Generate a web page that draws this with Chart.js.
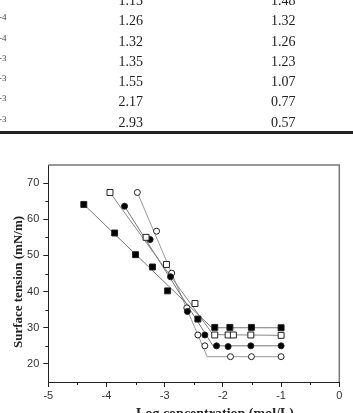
<!DOCTYPE html>
<html>
<head>
<meta charset="utf-8">
<script src="https://cdn.jsdelivr.net/npm/chart.js@4"></script>
<style>
  html, body { margin: 0; padding: 0; background: #fff; overflow: hidden; }
  #wrap { position: relative; width: 353px; height: 413px; overflow: hidden; }
  #chart { position: absolute; left: 0; top: 0; }
  .cell { position: absolute; font-family: "Liberation Serif", "DejaVu Serif", serif; font-size: 14px; color: #222; transform: translate(-50%, -50%); white-space: nowrap; }
  .sup { position: absolute; font-family: "Liberation Serif", serif; font-size: 9px; color: #444; left: -1px; }
  #rule { position: absolute; left: 0; top: 131px; width: 353px; height: 3px; background: #222; }
</style>
</head>
<body>
<div id="wrap">
  <canvas id="chart" width="353" height="430"></canvas>
  <div id="table"></div>
  <div id="rule"></div>
</div>
<script>
// table fragment above the figure
const tableCol1 = ['1.13', '1.26', '1.32', '1.35', '1.55', '2.17', '2.93'];
const tableCol2 = ['1.48', '1.32', '1.26', '1.23', '1.07', '0.77', '0.57'];
const tableExp = ['', '-4', '-4', '-3', '-3', '-3', '-3'];

// surface tension vs log concentration
const filledSquareX = [-4.39, -3.86, -3.50, -3.21, -2.95, -2.43, -2.14, -1.88, -1.51, -1.00];
const filledSquareY = [64.1, 56.2, 50.2, 46.8, 40.2, 32.4, 30.1, 30.1, 30.1, 30.0];
const openSquareX = [-3.94, -3.32, -2.97, -2.48, -2.14, -1.91, -1.82, -1.52, -1.00];
const openSquareY = [67.4, 55.0, 47.5, 36.7, 28.0, 28.0, 28.0, 28.0, 27.9];
const filledCircleX = [-3.69, -3.25, -2.90, -2.61, -2.31, -2.11, -1.91, -1.52, -1.00];
const filledCircleY = [63.6, 54.4, 44.1, 34.5, 28.0, 25.0, 24.8, 25.0, 25.0];
const openCircleX = [-3.47, -3.14, -2.88, -2.62, -2.43, -2.31, -1.87, -1.51, -1.00];
const openCircleY = [67.4, 56.7, 45.1, 35.5, 28.0, 25.0, 22.0, 22.0, 22.0];

// fitted lines (start, break point, end)
const fitFilledSquareX = [-4.39, -2.19, -1.00];
const fitFilledSquareY = [64.1, 30.0, 30.0];
const fitOpenSquareX = [-3.94, -2.17, -1.00];
const fitOpenSquareY = [67.4, 28.1, 27.9];
const fitFilledCircleX = [-3.69, -2.17, -1.00];
const fitFilledCircleY = [63.6, 25.0, 25.0];
const fitOpenCircleX = [-3.47, -2.27, -1.00];
const fitOpenCircleY = [67.4, 22.0, 22.0];

const xTicks = [-5, -4, -3, -2, -1, 0];
const yTicks = [20, 30, 40, 50, 60, 70];
const xMinor = [-4.5, -3.5, -2.5, -1.5, -0.5];
const yMinor = [25, 35, 45, 55, 65];

const table = document.getElementById('table');
const rowY = [1, 21, 41.5, 61.5, 82, 102.3, 122.7];
tableCol1.forEach((v, i) => {
  table.insertAdjacentHTML('beforeend',
    `<div class="cell" style="left:130.7px;top:${rowY[i]}px">${v}</div>
     <div class="cell" style="left:283.3px;top:${rowY[i]}px">${tableCol2[i]}</div>`);
  if (tableExp[i]) {
    table.insertAdjacentHTML('beforeend',
      `<div class="sup" style="top:${rowY[i] - 9}px">${tableExp[i]}</div>`);
  }
});

const pts = (xs, ys) => xs.map((x, i) => ({ x: x, y: ys[i] }));

const fitLine = (xs, ys, color) => ({
  data: pts(xs, ys),
  showLine: true,
  borderColor: color,
  borderWidth: 1,
  pointRadius: 0,
  order: 2
});

const markers = (xs, ys, style, fill, r) => ({
  data: pts(xs, ys),
  showLine: false,
  pointStyle: style,
  pointRadius: r,
  pointBackgroundColor: fill,
  pointBorderColor: '#222',
  pointBorderWidth: 1,
  order: 1
});

const frameAndLabels = {
  id: 'frameAndLabels',
  afterDraw(chart) {
    const { ctx, chartArea: a, scales } = chart;
    ctx.save();
    // top + right frame
    ctx.strokeStyle = '#777';
    ctx.lineWidth = 1.5;
    ctx.beginPath();
    ctx.moveTo(a.left, a.top);
    ctx.lineTo(a.right, a.top);
    ctx.lineTo(a.right, a.bottom);
    ctx.stroke();
    // minor ticks
    ctx.strokeStyle = '#222';
    ctx.lineWidth = 1;
    ctx.beginPath();
    xMinor.forEach(v => {
      const px = Math.round(scales.x.getPixelForValue(v)) + 0.5;
      ctx.moveTo(px, a.bottom);
      ctx.lineTo(px, a.bottom + 3);
    });
    yMinor.forEach(v => {
      const py = Math.round(scales.y.getPixelForValue(v)) + 0.5;
      ctx.moveTo(a.left, py);
      ctx.lineTo(a.left - 3, py);
    });
    ctx.stroke();
    // axis titles
    ctx.fillStyle = '#222';
    ctx.font = 'bold 14px "Liberation Serif", serif';
    ctx.textAlign = 'center';
    ctx.textBaseline = 'middle';
    ctx.fillText('Log concentration (mol/L)', 215, 414);
    ctx.translate(19, 282);
    ctx.rotate(-Math.PI / 2);
    ctx.font = 'bold 13px "Liberation Serif", serif';
    ctx.fillText('Surface tension (mN/m)', 0, 0);
    ctx.restore();
  }
};

new Chart(document.getElementById('chart'), {
  type: 'scatter',
  data: {
    datasets: [
      fitLine(fitFilledSquareX, fitFilledSquareY, '#777'),
      fitLine(fitOpenSquareX, fitOpenSquareY, '#888'),
      fitLine(fitFilledCircleX, fitFilledCircleY, '#777'),
      fitLine(fitOpenCircleX, fitOpenCircleY, '#999'),
      markers(filledSquareX, filledSquareY, 'rect', '#000', 4.2),
      markers(openSquareX, openSquareY, 'rect', '#fff', 4.2),
      markers(filledCircleX, filledCircleY, 'circle', '#000', 3),
      markers(openCircleX, openCircleY, 'circle', '#fff', 3)
    ]
  },
  options: {
    responsive: false,
    animation: false,
    layout: { padding: { top: 165, right: 13.7, left: 0, bottom: 0 } },
    plugins: { legend: { display: false }, tooltip: { enabled: false } },
    scales: {
      x: {
        type: 'linear',
        min: -5,
        max: 0,
        afterBuildTicks: s => { s.ticks = xTicks.map(v => ({ value: v })); },
        afterFit: s => { s.height = 48; },
        ticks: { color: '#333', font: { family: 'Liberation Sans', size: 11 }, padding: 2 },
        grid: { drawOnChartArea: false, tickLength: 5, color: '#222' },
        border: { color: '#222', width: 1 }
      },
      y: {
        type: 'linear',
        min: 15,
        max: 75,
        afterBuildTicks: s => { s.ticks = yTicks.map(v => ({ value: v })); },
        afterFit: s => { s.width = 48.3; },
        ticks: { color: '#333', font: { family: 'Liberation Sans', size: 11 }, padding: 4 },
        grid: { drawOnChartArea: false, tickLength: 5, color: '#222' },
        border: { color: '#222', width: 1 }
      }
    }
  },
  plugins: [frameAndLabels]
});
</script>
</body>
</html>
